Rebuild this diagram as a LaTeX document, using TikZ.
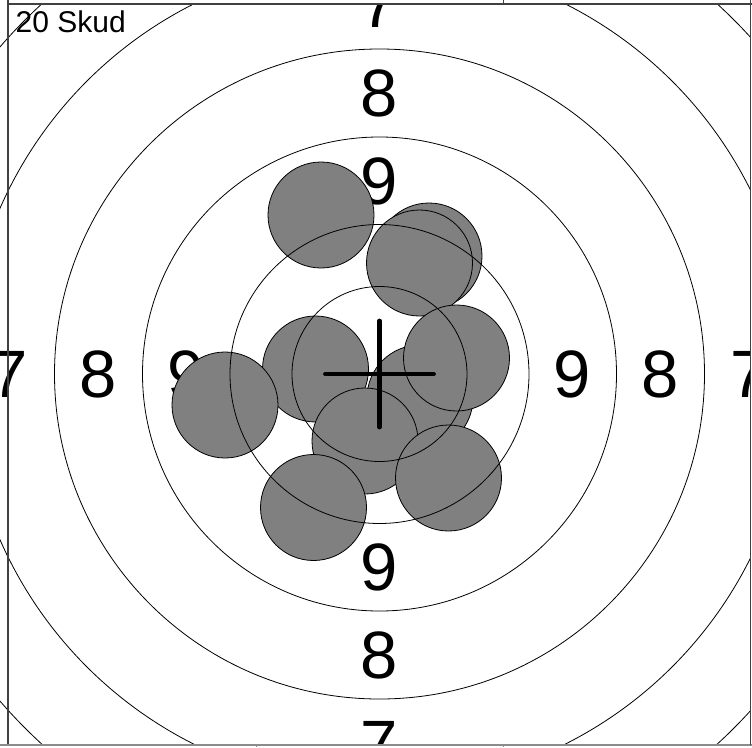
\documentclass[tikz,border=0pt]{standalone}
\usepackage{fontspec}
\setmainfont{Liberation Sans}
\begin{document}
\begin{tikzpicture}[x=1pt,y=-1pt,
  ring/.style={draw=black,line width=0.8pt},
  shot/.style={fill=black!50,draw=black,line width=0.8pt},
  lbl/.style={inner sep=0pt,font=\fontsize{67}{67}\selectfont},
  frameline/.style={draw=black!75,line width=1.6pt},
  cross/.style={line width=4.8pt,line cap=round}]
\useasboundingbox (0,0) rectangle (752,747);
\coordinate (c) at (379.5,374);
\begin{scope}
\clip (0,4) rectangle (750,745);
% labels
\node[lbl] (l9t) at (379.5,181) {9};
\node[lbl] (l9b) at (379.5,567) {9};
\node[lbl] (l9l) at (186.5,374) {9};
\node[lbl] (l9r) at (572.5,374) {9};
\node[lbl] (l8t) at (379.5,93) {8};
\node[lbl] (l8b) at (379.5,655) {8};
\node[lbl] (l8l) at (98.5,374) {8};
\node[lbl] (l8r) at (660.5,374) {8};
\node[lbl] (l7t) at (379.5,4) {7};
\node[lbl] (l7b) at (379.5,744) {7};
\node[lbl] (l7l) at (9.5,374) {7};
\node[lbl] (l7r) at (749.5,374) {7};
% shots
\path[shot] (429,256) circle[radius=53pt];
\path[shot] (419.5,263) circle[radius=53pt];
\path[shot] (321,215) circle[radius=53pt];
\path[shot] (420,398) circle[radius=53pt];
\path[shot] (315.5,369) circle[radius=53pt];
\path[shot] (225,405) circle[radius=53pt];
\path[shot] (365,441) circle[radius=53pt];
\path[shot] (456.5,358) circle[radius=53pt];
\path[shot] (313.5,507.5) circle[radius=53pt];
\path[shot] (448.5,478) circle[radius=53pt];
% rings
\foreach \r in {87.5,149.5,237,325,414,501}
  \draw[ring] (c) circle[radius=\r pt];
\end{scope}
% crosshair
\draw[cross] ([xshift=-54pt]c) -- ([xshift=54pt]c);
\draw[cross] ([yshift=53pt]c) -- ([yshift=-53pt]c);
% frame
\coordinate (tl) at (8,4);
\coordinate (tr) at (750,4);
\coordinate (bl) at (8,745);
\coordinate (br) at (750,745);
\draw[frameline] (8,0) -- (bl);
\draw[frameline] (tl) -- (752,4);
\draw[frameline,draw=black!45] (0,745) -- (752,745);
\draw[frameline,line width=1pt] (750,0) -- (br);
\draw[frameline,line width=1pt] (503,0) -- (503,4);
\draw[frameline,line width=1pt,draw=black!45] (256,745) -- (256,747);
\draw[frameline,line width=1pt,draw=black!45] (503,745) -- (503,747);
% title
\node[anchor=base west,inner sep=0pt,font=\fontsize{30}{30}\selectfont] (title) at (15.5,32) {20 Skud};
\end{tikzpicture}
\end{document}
